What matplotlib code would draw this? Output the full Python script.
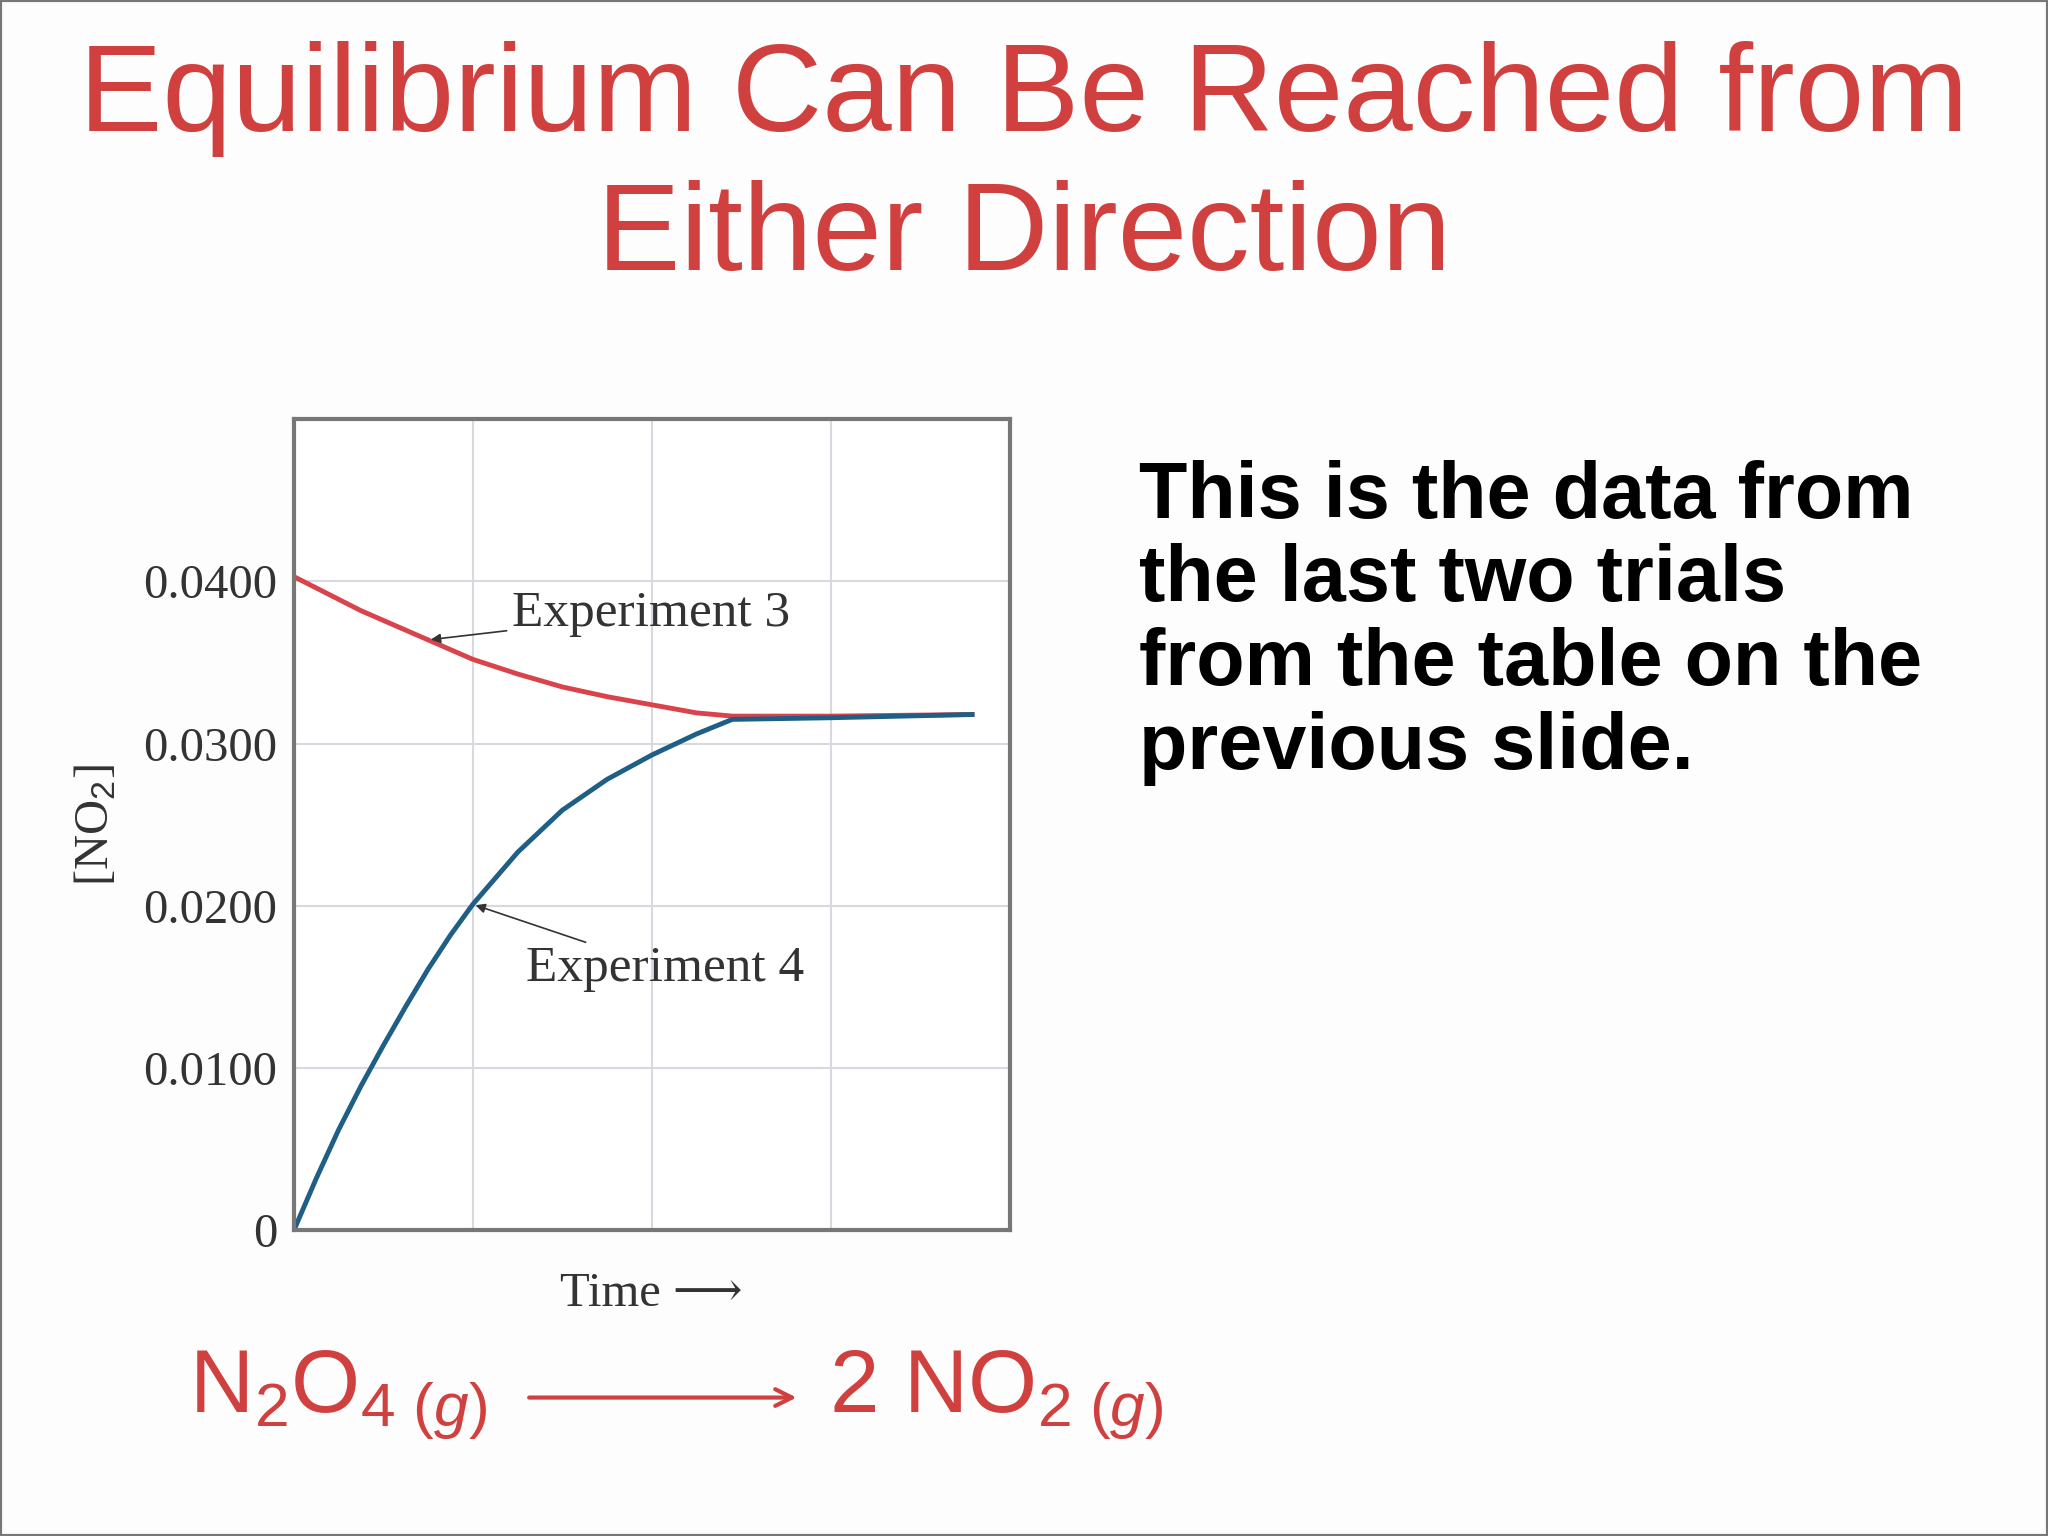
import matplotlib
matplotlib.use("Agg")
import matplotlib.pyplot as plt
from matplotlib.patches import Rectangle, FancyArrowPatch

plt.rcParams["mathtext.fontset"] = "custom"
plt.rcParams["mathtext.rm"] = "Liberation Sans"
plt.rcParams["mathtext.it"] = "Liberation Sans:italic"

t3 = [0, 0.125, 0.25, 0.375, 0.5, 0.625, 0.75, 0.875, 1, 1.25, 1.5, 1.75, 2, 2.25, 2.45, 3, 3.79]
exp3 = [0.0403, 0.0396, 0.0389, 0.0382, 0.0376, 0.0370, 0.0364, 0.0358, 0.0352, 0.0343, 0.0335, 0.0329, 0.0324, 0.0319, 0.0317, 0.0317, 0.0318]
t4 = [0, 0.125, 0.25, 0.375, 0.5, 0.625, 0.75, 0.875, 1, 1.25, 1.5, 1.75, 2, 2.25, 2.45, 3, 3.79]
exp4 = [0, 0.0032, 0.0062, 0.0089, 0.0114, 0.0138, 0.0161, 0.0182, 0.0201, 0.0233, 0.0259, 0.0278, 0.0293, 0.0306, 0.0315, 0.0316, 0.0318]
yticks = [0, 0.01, 0.02, 0.03, 0.04]
yticklabels = ["0", "0.0100", "0.0200", "0.0300", "0.0400"]

W, H = 1568, 1176
fig = plt.figure(figsize=(20.48, 15.36), dpi=100)
fig.patch.set_facecolor("#fdfdfd")
fig.add_artist(Rectangle((0, 0), 1, 1, transform=fig.transFigure, fill=False, edgecolor="#777777", lw=3))

red = "#d0403f"
fig.text(0.5, 1 - 76/H, "Equilibrium Can Be Reached from", ha="center", va="center",
         color=red, fontsize=90, family="Liberation Sans")
fig.text(0.5, 1 - 182/H, "Either Direction", ha="center", va="center",
         color=red, fontsize=90, family="Liberation Sans")

ax = fig.add_axes([225/W, 1 - 942/H, (773-225)/W, (942-321)/H])
ax.plot(t3, exp3, color="#d9434b", lw=3.5)
ax.plot(t4, exp4, color="#1f5f85", lw=3.5)
ax.set_xlim(0, 4)
ax.set_ylim(0, 0.05)
ax.set_xticks([1, 2, 3])
ax.set_xticklabels([])
ax.set_yticks(yticks)
ax.set_yticklabels(yticklabels, family="Liberation Serif", fontsize=35, color="#333333")
ax.tick_params(length=0, pad=12)
ax.grid(True, color="#d8d8e0", lw=1.5)
for s in ax.spines.values():
    s.set_color("#777777"); s.set_linewidth(3)
ax.set_ylabel("[NO$_2$]", family="Liberation Serif", fontsize=35, color="#333333", labelpad=18)
ax.set_xlabel("Time ⟶", fontsize=35, color="#333333", labelpad=18)
ax.xaxis.label.set_family(["Liberation Serif", "DejaVu Serif"])

ax.annotate("Experiment 3", xy=(0.75, 0.0364), xytext=(1.22, 0.0380), family="Liberation Serif",
            fontsize=37, color="#333333", va="center",
            arrowprops=dict(arrowstyle="-|>", color="#333333", lw=1.2, mutation_scale=14))
ax.annotate("Experiment 4", xy=(1.0, 0.0201), xytext=(1.3, 0.0161), family="Liberation Serif",
            fontsize=37, color="#333333", va="center",
            arrowprops=dict(arrowstyle="-|>", color="#333333", lw=1.2, mutation_scale=14))

body = "This is the data from\nthe last two trials\nfrom the table on the\nprevious slide."
fig.text(872/W, 1 - 352/H, body, ha="left", va="top", fontsize=57, fontweight="bold",
         family="Liberation Sans", linespacing=1.15)

fig.text(145/W, 1 - 1068/H, r"N$_2$O$_{4\ (\mathit{g})}$", ha="left", va="center", color=red,
         fontsize=64, family="Liberation Sans")
fig.text(635/W, 1 - 1068/H, r"2 NO$_{2\ (\mathit{g})}$", ha="left", va="center", color=red,
         fontsize=64, family="Liberation Sans")
fig.add_artist(FancyArrowPatch((403/W, 1 - 1070/H), (612/W, 1 - 1070/H),
               transform=fig.transFigure, arrowstyle="->", color=red, lw=3, mutation_scale=30))
fig.savefig("out.png", dpi=100, facecolor=fig.get_facecolor())
